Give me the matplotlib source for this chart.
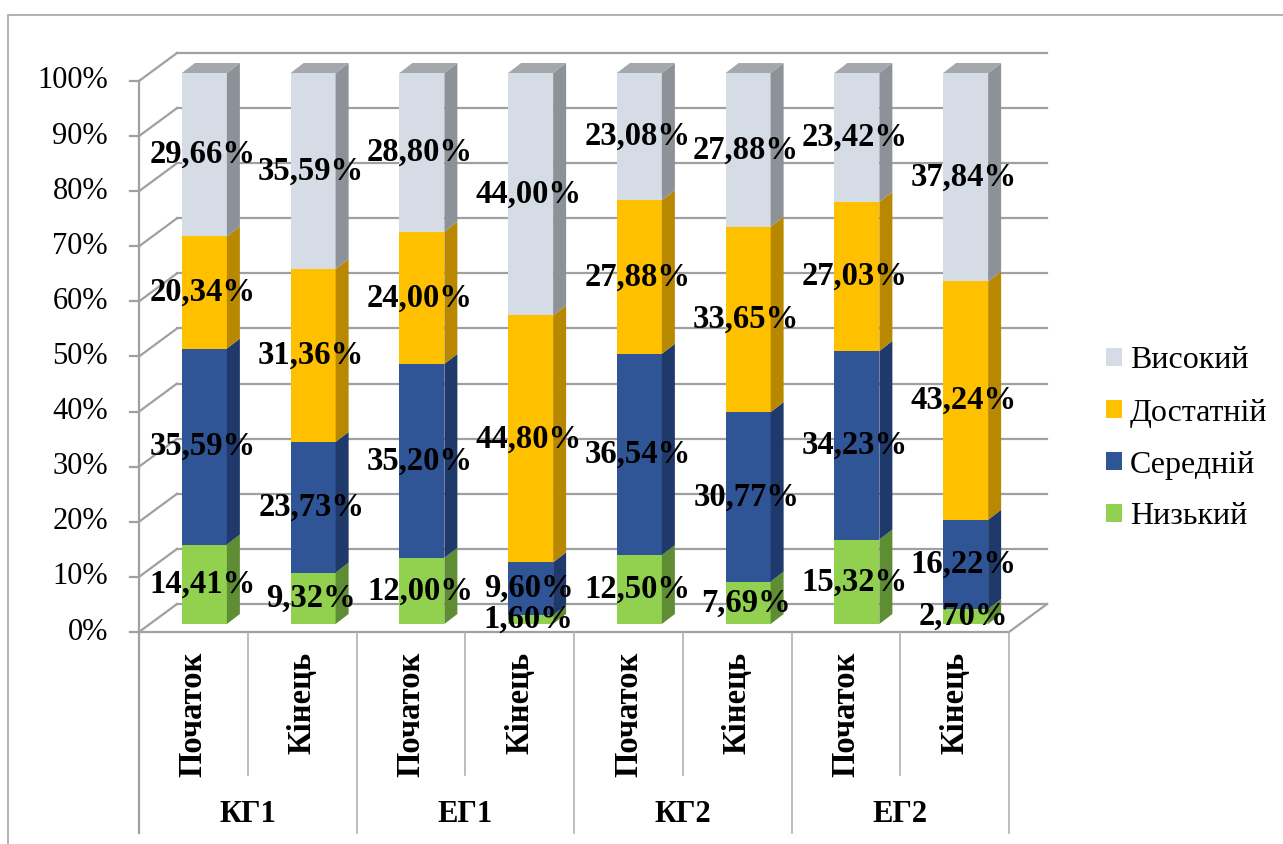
import matplotlib
matplotlib.use("Agg")
import matplotlib.pyplot as plt
from matplotlib.patches import Polygon, Rectangle, Patch

# ---- data -------------------------------------------------------------
groups = ["КГ1", "ЕГ1", "КГ2", "ЕГ2"]
stages = ["Початок", "Кінець"]
levels = ["Низький", "Середній", "Достатній", "Високий"]

low = [14.41, 9.32, 12.00, 1.60, 12.50, 7.69, 15.32, 2.70]
mid = [35.59, 23.73, 35.20, 9.60, 36.54, 30.77, 34.23, 16.22]
good = [20.34, 31.36, 24.00, 44.80, 27.88, 33.65, 27.03, 43.24]
high = [29.66, 35.59, 28.80, 44.00, 23.08, 27.88, 23.42, 37.84]

y_ticks = list(range(0, 101, 10))
y_tick_labels = [f"{t}%" for t in y_ticks]

# ---- styling ----------------------------------------------------------
front_colors = ["#92D050", "#2F5597", "#FFC000", "#D6DCE5"]
side_colors = ["#5F8D34", "#1F3A6A", "#B88900", "#8D9298"]
top_color = "#A4A7AC"
grid_color = "#A0A0A0"

plt.rcParams["font.family"] = ["Liberation Serif", "DejaVu Serif"]

W, H = 1283, 844
fig = plt.figure(figsize=(W / 100, H / 100), dpi=100)
ax = fig.add_axes([0, 0, 1, 1])

# pixel geometry of the plotting frame (front plane)
x0_px, cat_px = 139.0, 108.75
y0_px, pct_px = 632.0, 5.51
ax.set_xlim(-x0_px / cat_px, (W - x0_px) / cat_px)
ax.set_ylim((y0_px - H) / pct_px, y0_px / pct_px)
ax.axis("off")

n = len(low)
DX, DY = 38 / cat_px, 28 / pct_px          # depth of the chart box
BX, BY = 11 / cat_px, 8 / pct_px           # bar placement inside the box
BDX, BDY = 13 / cat_px, 10 / pct_px        # depth of a single bar
BW = 45 / cat_px                           # bar width

lw = 1.6
# back wall gridlines, left wall diagonals and tick marks
for t in y_ticks:
    ax.plot([DX, n + DX], [t + DY, t + DY], color=grid_color, lw=lw, zorder=1)
    ax.plot([0, DX], [t, t + DY], color=grid_color, lw=lw, zorder=1)
    ax.plot([-9 / cat_px, 0], [t, t], color=grid_color, lw=lw, zorder=1)
# front axis, floor edges
ax.plot([0, 0], [100, -36.4], color=grid_color, lw=lw, zorder=1)
ax.plot([0, n], [0, 0], color=grid_color, lw=lw, zorder=1)
ax.plot([n, n + DX], [0, DY], color=grid_color, lw=lw, zorder=1)
# category separators
for k in range(1, n + 1):
    bottom = -36.4 if k % 2 == 0 else -25.95
    ax.plot([k, k], [0, bottom], color="#B0B0B0", lw=1.2, zorder=1)

for i, txt in enumerate(y_tick_labels):
    ax.text((108 - x0_px) / cat_px, y_ticks[i], txt, ha="right", va="center",
            fontsize=22, color="black")

# ---- 3D stacked bars ----------------------------------------------------
series = [low, mid, good, high]
for i in range(n):
    xl = i + (1 - BW) / 2 + BX
    base = 0.0
    for s, vals in enumerate(series):
        v = vals[i]
        b, t = base + BY, base + v + BY
        ax.add_patch(Rectangle((xl, b), BW, v, facecolor=front_colors[s],
                               edgecolor="none", zorder=3))
        ax.add_patch(Polygon([(xl + BW, b), (xl + BW + BDX, b + BDY),
                              (xl + BW + BDX, t + BDY), (xl + BW, t)],
                             closed=True, facecolor=side_colors[s],
                             edgecolor="none", zorder=3))
        if s == len(series) - 1:
            ax.add_patch(Polygon([(xl, t), (xl + BW, t), (xl + BW + BDX, t + BDY),
                                  (xl + BDX, t + BDY)], closed=True,
                                 facecolor=top_color, edgecolor="none", zorder=3))
        base += v

# value labels
for i in range(n):
    cx = i + (1 - BW) / 2 + BX + BW / 2 - 2 / cat_px
    base = 0.0
    for vals in series:
        v = vals[i]
        ax.text(cx, base + v / 2 + BY, f"{v:.2f}%".replace(".", ","),
                ha="center", va="center", fontsize=23.5, fontweight="bold",
                color="black", zorder=10)
        base += v

# category and group labels
for i in range(n):
    ax.text(i + 0.5, (y0_px - 652) / pct_px, stages[i % 2], rotation=90,
            ha="center", va="top", fontsize=23.5, fontweight="bold")
for g, name in enumerate(groups):
    ax.text(2 * g + 1, (y0_px - 815) / pct_px, name, ha="center", va="center",
            fontsize=22, fontweight="bold")

# legend
handles = [Patch(facecolor=front_colors[s], edgecolor="none")
           for s in range(len(levels) - 1, -1, -1)]
ax.legend(handles, levels[::-1], loc="center left",
          bbox_to_anchor=(1106 / W, 1 - 439 / H), bbox_transform=fig.transFigure,
          frameon=False, fontsize=23, handlelength=0.5, handleheight=0.5,
          handletextpad=0.25, labelspacing=0.72, borderpad=0, borderaxespad=0)

# chart frame
fig.patches.append(Rectangle((8 / W, -0.1), 1.5, (H - 15) / H + 0.1,
                             transform=fig.transFigure, fill=False,
                             edgecolor="#A6A6A6", lw=1.2))

fig.savefig("out.png", dpi=100)
